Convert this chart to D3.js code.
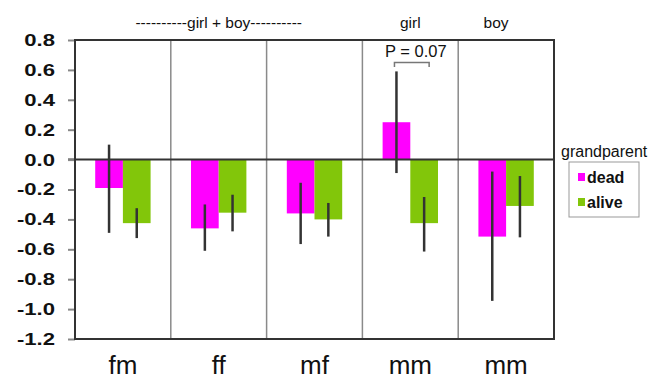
<!DOCTYPE html>
<html>
<head>
<meta charset="utf-8">
<script src="https://cdn.jsdelivr.net/npm/d3@7"></script>
<style>
  body { margin: 0; background: #fff; }
  svg text { font-family: "Liberation Sans", Arial, sans-serif; fill: #111; }
</style>
</head>
<body>
<div id="chart"></div>
<script>
// data
const groups = ['g1', 'g2', 'g3', 'g4', 'g5'];
const groupLabels = ['fm', 'ff', 'mf', 'mm', 'mm'];
const series = ['dead', 'alive'];
const deadMean = [-0.19, -0.46, -0.36, 0.25, -0.515];
const deadLo = [-0.49, -0.61, -0.565, -0.09, -0.945];
const deadHi = [0.10, -0.30, -0.155, 0.59, -0.08];
const aliveMean = [-0.425, -0.355, -0.40, -0.425, -0.31];
const aliveLo = [-0.525, -0.48, -0.515, -0.615, -0.52];
const aliveHi = [-0.325, -0.235, -0.29, -0.25, -0.11];
const yTicks = [0.8, 0.6, 0.4, 0.2, 0.0, -0.2, -0.4, -0.6, -0.8, -1.0, -1.2];
const colors = { dead: '#ff00ff', alive: '#82c60a' };

const W = 657, H = 381;
const plot = { left: 75, right: 554, top: 40, bottom: 339 };

const svg = d3.select('#chart').append('svg')
  .attr('width', W).attr('height', H);

const y = d3.scaleLinear().domain([-1.2, 0.8]).range([plot.bottom, plot.top]);
const x0 = d3.scaleBand().domain(groups).range([plot.left, plot.right]).padding(0);
const x1 = d3.scaleBand().domain(series).range([0, x0.bandwidth()])
  .paddingInner(0).paddingOuter(0.73);

const rows = groups.map((g, i) => ({
  g, i,
  vals: [
    { s: 'dead', v: deadMean[i], lo: deadLo[i], hi: deadHi[i] },
    { s: 'alive', v: aliveMean[i], lo: aliveLo[i], hi: aliveHi[i] }
  ]
}));

// group separators
svg.append('g').selectAll('line')
  .data(groups.slice(1))
  .enter().append('line')
  .attr('x1', d => x0(d)).attr('x2', d => x0(d))
  .attr('y1', plot.top).attr('y2', plot.bottom)
  .attr('stroke', '#8a8a8a').attr('stroke-width', 1.5);

// bars
const gg = svg.append('g').selectAll('g')
  .data(rows)
  .enter().append('g')
  .attr('transform', d => `translate(${x0(d.g)},0)`);

gg.selectAll('rect')
  .data(d => d.vals)
  .enter().append('rect')
  .attr('x', d => x1(d.s))
  .attr('width', x1.bandwidth())
  .attr('y', d => y(Math.max(0, d.v)))
  .attr('height', d => Math.abs(y(d.v) - y(0)))
  .attr('fill', d => colors[d.s]);

// zero line
svg.append('line')
  .attr('x1', plot.left - 7).attr('x2', plot.right)
  .attr('y1', y(0)).attr('y2', y(0))
  .attr('stroke', '#333').attr('stroke-width', 2);

// error bars
gg.selectAll('line.err')
  .data(d => d.vals)
  .enter().append('line')
  .attr('class', 'err')
  .attr('x1', d => x1(d.s) + x1.bandwidth() / 2)
  .attr('x2', d => x1(d.s) + x1.bandwidth() / 2)
  .attr('y1', d => y(d.hi)).attr('y2', d => y(d.lo))
  .attr('stroke', '#333').attr('stroke-width', 2.5);

// y axis
const yAxis = svg.append('g')
  .attr('transform', `translate(${plot.left},0)`)
  .call(d3.axisLeft(y).tickValues(yTicks).tickSize(7).tickPadding(13)
    .tickFormat(d => d.toFixed(1)));
yAxis.select('.domain').remove();
yAxis.selectAll('.tick line').attr('stroke', '#888').attr('stroke-width', 2);
yAxis.selectAll('.tick text')
  .attr('x', -20 / 1.3)
  .attr('transform', 'scale(1.3,1)')
  .style('font-size', '17px')
  .style('font-weight', 'bold')
  .style('fill', '#111');

// frame
svg.append('rect')
  .attr('x', plot.left).attr('y', plot.top)
  .attr('width', plot.right - plot.left).attr('height', plot.bottom - plot.top)
  .attr('fill', 'none').attr('stroke', '#333').attr('stroke-width', 2);

// category labels
svg.append('g').selectAll('text')
  .data(groups)
  .enter().append('text')
  .attr('x', d => x0(d) + x0.bandwidth() / 2)
  .attr('y', 374)
  .attr('text-anchor', 'middle')
  .style('font-size', '26px')
  .text((d, i) => groupLabels[i]);

// headers above the plot
svg.append('text')
  .attr('x', (x0('g1') + x0('g3') + x0.bandwidth()) / 2).attr('y', 28)
  .attr('text-anchor', 'middle').style('font-size', '15.5px')
  .text('----------girl + boy----------');
svg.append('text')
  .attr('x', x0('g4') + x0.bandwidth() / 2).attr('y', 28)
  .attr('text-anchor', 'middle').style('font-size', '15.5px')
  .text('girl');
svg.append('text')
  .attr('x', x0('g5') + x0.bandwidth() / 2 - 10).attr('y', 28)
  .attr('text-anchor', 'middle').style('font-size', '15.5px')
  .text('boy');

// significance bracket
const bx1 = x0('g4') + x1('dead') + x1.bandwidth() / 2 - 2;
const bx2 = x0('g4') + x1('alive') + x1.bandwidth() / 2 + 5;
svg.append('path')
  .attr('d', `M${bx1},67V62.5H${bx2}V67`)
  .attr('fill', 'none').attr('stroke', '#777').attr('stroke-width', 1.5);
svg.append('text')
  .attr('x', (bx1 + bx2) / 2 + 4).attr('y', 57)
  .attr('text-anchor', 'middle').style('font-size', '16.5px')
  .text('P = 0.07');

// legend
svg.append('text')
  .attr('x', 561).attr('y', 157)
  .style('font-size', '16px')
  .text('grandparent');
svg.append('rect')
  .attr('x', 569).attr('y', 162).attr('width', 70).attr('height', 55)
  .attr('fill', 'none').attr('stroke', '#999').attr('stroke-width', 1);
const lg = svg.append('g').selectAll('g')
  .data(series)
  .enter().append('g')
  .attr('transform', (d, i) => `translate(578,${173 + i * 25})`);
lg.append('rect')
  .attr('width', 7).attr('height', 8)
  .attr('fill', d => colors[d]);
lg.append('text')
  .attr('x', 9).attr('y', 9.5)
  .style('font-size', '16px').style('font-weight', 'bold')
  .text(d => d);
</script>
</body>
</html>
